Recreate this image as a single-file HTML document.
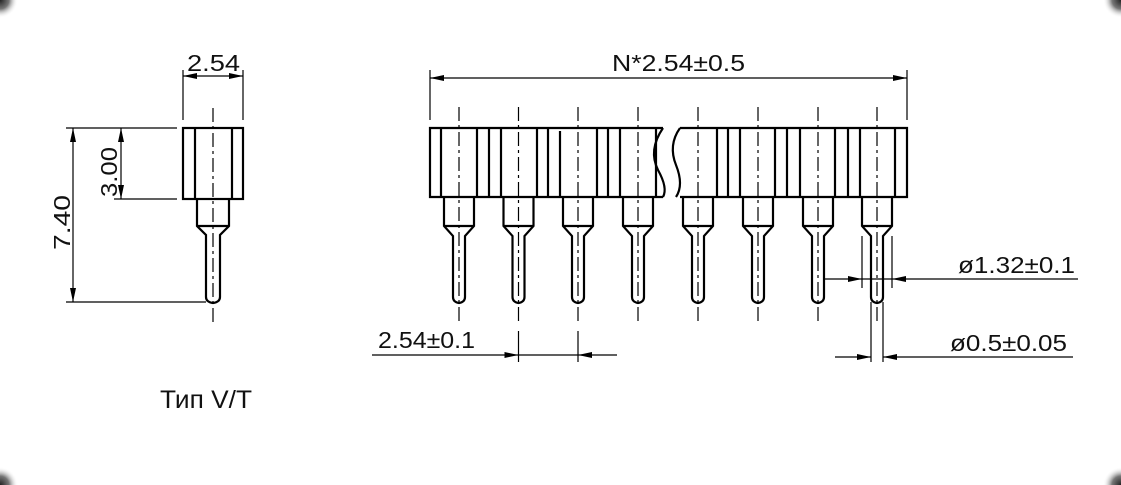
<!DOCTYPE html>
<html><head><meta charset="utf-8"><style>
html,body{margin:0;padding:0;background:#fff;width:1121px;height:485px;overflow:hidden}
svg{display:block}
text{font-family:"Liberation Sans","DejaVu Sans",sans-serif;fill:#111}
</style></head><body>
<svg width="1121" height="485" viewBox="0 0 1121 485" xmlns="http://www.w3.org/2000/svg">
<defs>
<marker id="a" viewBox="0 0 14 6" refX="14" refY="3" markerWidth="14" markerHeight="6" markerUnits="userSpaceOnUse" orient="auto"><path d="M0,0 L14,3 L0,6 Z" fill="#000"/></marker>
<radialGradient id="c" cx="0.5" cy="0.5" r="0.5"><stop offset="0" stop-color="#222"/><stop offset="0.5" stop-color="#777"/><stop offset="1" stop-color="#fff" stop-opacity="0"/></radialGradient>
</defs>
<rect width="1121" height="485" fill="#fff"/>
<circle cx="0" cy="0" r="18" fill="url(#c)"/>
<circle cx="1121" cy="0" r="18" fill="url(#c)"/>
<circle cx="0" cy="485" r="18" fill="url(#c)"/>
<circle cx="1121" cy="485" r="18" fill="url(#c)"/>

<g stroke="#000" fill="none">
<g stroke-width="2.2">
<rect x="183" y="128" width="60" height="71"/>
<line x1="195" y1="128" x2="195" y2="199"/>
<line x1="232" y1="128" x2="232" y2="199"/>
<path d="M197,199 V226 L206,235 V297 Q206,302 213,303 Q220,302 220,297 V235 L229,226 V199"/>
<line x1="197" y1="226" x2="229" y2="226"/>
</g>
<line x1="213" y1="108" x2="213" y2="325" stroke-width="1.2" stroke-dasharray="14,4,3,4"/>
<g stroke-width="1.2">
<line x1="183" y1="70" x2="183" y2="120"/>
<line x1="243" y1="70" x2="243" y2="120"/>
<line x1="213" y1="76" x2="183" y2="76" marker-end="url(#a)"/>
<line x1="213" y1="76" x2="243" y2="76" marker-end="url(#a)"/>
<line x1="66" y1="128" x2="177" y2="128"/>
<line x1="66" y1="302" x2="206" y2="302"/>
<line x1="73" y1="215" x2="73" y2="128" marker-end="url(#a)"/>
<line x1="73" y1="215" x2="73" y2="302" marker-end="url(#a)"/>
<line x1="114" y1="199" x2="177" y2="199"/>
<line x1="121" y1="164" x2="121" y2="128" marker-end="url(#a)"/>
<line x1="121" y1="164" x2="121" y2="199" marker-end="url(#a)"/>
</g>

<g stroke-width="2.2">
<path d="M663,128 H430 V197 H663"/>
<path d="M663,128 Q648,150 658,170 Q668,188 663,197"/>
<path d="M680,128 H907 V197 H680"/>
<path d="M680,128 Q668,145 676,165 Q684,185 676,197"/>
<line x1="441" y1="128" x2="441" y2="197"/>
<line x1="477" y1="128" x2="477" y2="197"/>
<line x1="489" y1="128" x2="489" y2="197"/>
<line x1="501" y1="128" x2="501" y2="197"/>
<line x1="537" y1="128" x2="537" y2="197"/>
<line x1="548" y1="128" x2="548" y2="197"/>
<line x1="560" y1="131" x2="560" y2="197"/>
<line x1="597" y1="128" x2="597" y2="197"/>
<line x1="608" y1="128" x2="608" y2="197"/>
<line x1="620" y1="128" x2="620" y2="197"/>
<line x1="656" y1="128" x2="656" y2="197"/>
<line x1="717" y1="128" x2="717" y2="197"/>
<line x1="728" y1="128" x2="728" y2="197"/>
<line x1="740" y1="128" x2="740" y2="197"/>
<line x1="775" y1="128" x2="775" y2="197"/>
<line x1="787" y1="128" x2="787" y2="197"/>
<line x1="800" y1="128" x2="800" y2="197"/>
<line x1="835" y1="128" x2="835" y2="197"/>
<line x1="848" y1="128" x2="848" y2="197"/>
<line x1="860" y1="128" x2="860" y2="197"/>
<line x1="895" y1="128" x2="895" y2="197"/>
</g>
<g id="p" stroke-width="2.2">
<path d="M444,197 V226 L453,236 V297 Q453,302 459,303 Q465,302 465,297 V236 L474,226 V197"/>
<line x1="444" y1="226" x2="474" y2="226"/>
</g>
<use href="#p" x="59.5"/>
<use href="#p" x="119"/>
<use href="#p" x="179"/>
<use href="#p" x="239"/>
<use href="#p" x="299"/>
<use href="#p" x="359"/>
<use href="#p" x="418"/>
<g stroke-width="1.2" stroke-dasharray="14,4,3,4">
<line x1="459" y1="107" x2="459" y2="325"/>
<line x1="518.5" y1="107" x2="518.5" y2="325"/>
<line x1="578" y1="107" x2="578" y2="325"/>
<line x1="638" y1="107" x2="638" y2="325"/>
<line x1="698" y1="107" x2="698" y2="325"/>
<line x1="758" y1="107" x2="758" y2="325"/>
<line x1="818" y1="107" x2="818" y2="325"/>
<line x1="877" y1="107" x2="877" y2="325"/>
</g>
<g stroke-width="1.2">
<line x1="430" y1="70" x2="430" y2="120"/>
<line x1="907" y1="70" x2="907" y2="120"/>
<line x1="668" y1="78" x2="430" y2="78" marker-end="url(#a)"/>
<line x1="668" y1="78" x2="907" y2="78" marker-end="url(#a)"/>

<line x1="518.5" y1="331" x2="518.5" y2="362"/>
<line x1="578" y1="331" x2="578" y2="362"/>
<line x1="372" y1="355" x2="518.5" y2="355" marker-end="url(#a)"/>
<line x1="518.5" y1="355" x2="578" y2="355"/>
<line x1="617" y1="355" x2="578" y2="355" marker-end="url(#a)"/>

<line x1="862" y1="236" x2="862" y2="288"/>
<line x1="892" y1="236" x2="892" y2="288"/>
<line x1="823" y1="279" x2="862" y2="279" marker-end="url(#a)"/>
<line x1="862" y1="279" x2="892" y2="279"/>
<line x1="1078" y1="279" x2="892" y2="279" marker-end="url(#a)"/>

<line x1="871" y1="302" x2="871" y2="362"/>
<line x1="883" y1="302" x2="883" y2="362"/>
<line x1="835" y1="357" x2="871" y2="357" marker-end="url(#a)"/>
<line x1="1073" y1="357" x2="883" y2="357" marker-end="url(#a)"/>
</g>
</g>

<text x="187" y="71" font-size="23" textLength="53" lengthAdjust="spacingAndGlyphs">2.54</text>
<text transform="translate(70,250) rotate(-90)" font-size="23" textLength="55" lengthAdjust="spacingAndGlyphs">7.40</text>
<text transform="translate(117,197) rotate(-90)" font-size="23" textLength="50" lengthAdjust="spacingAndGlyphs">3.00</text>
<text x="612" y="71" font-size="23" textLength="133" lengthAdjust="spacingAndGlyphs">N*2.54±0.5</text>
<text x="378" y="348" font-size="23" textLength="97" lengthAdjust="spacingAndGlyphs">2.54±0.1</text>
<text x="958" y="273" font-size="23" textLength="117" lengthAdjust="spacingAndGlyphs">ø1.32±0.1</text>
<text x="950" y="351" font-size="23" textLength="117" lengthAdjust="spacingAndGlyphs">ø0.5±0.05</text>
<text x="160" y="408" font-size="25" textLength="92" lengthAdjust="spacingAndGlyphs">Тип V/T</text>
</svg>
</body></html>
